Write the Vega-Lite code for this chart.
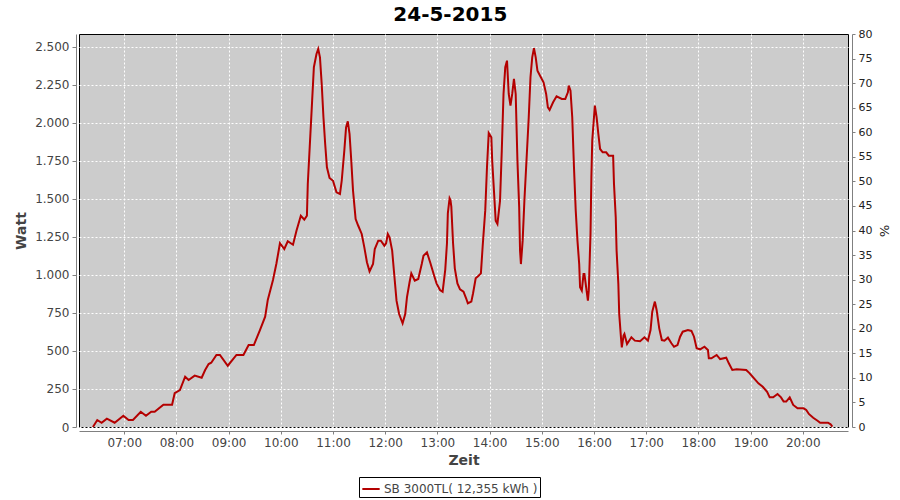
{
  "$schema": "https://vega.github.io/schema/vega-lite/v6.json",
  "width": 769,
  "height": 393,
  "autosize": {"type": "none"},
  "padding": {"left": 79, "top": 34, "right": 52, "bottom": 73},
  "background": "white",
  "title": {"text": "24-5-2015", "font": "DejaVu Sans", "fontSize": 20, "fontWeight": "bold", "color": "black", "anchor": "middle", "frame": "bounds", "offset": 3, "dx": -2},
  "config": {
    "view": {"fill": "#CCCCCC", "stroke": "black", "strokeWidth": 1},
    "font": "DejaVu Sans",
    "locale": {"number": {"decimal": ",", "thousands": ".", "grouping": [3], "currency": ["", " €"]}}
  },
  "layer": [
    {
      "data": {"values": [
        {"t": "2015-05-24 06:24", "w": 0, "s": "SB 3000TL( 12,355 kWh )"},
        {"t": "2015-05-24 06:29", "w": 46, "s": "SB 3000TL( 12,355 kWh )"},
        {"t": "2015-05-24 06:34", "w": 28, "s": "SB 3000TL( 12,355 kWh )"},
        {"t": "2015-05-24 06:40", "w": 55, "s": "SB 3000TL( 12,355 kWh )"},
        {"t": "2015-05-24 06:49", "w": 28, "s": "SB 3000TL( 12,355 kWh )"},
        {"t": "2015-05-24 06:59", "w": 74, "s": "SB 3000TL( 12,355 kWh )"},
        {"t": "2015-05-24 07:05", "w": 46, "s": "SB 3000TL( 12,355 kWh )"},
        {"t": "2015-05-24 07:10", "w": 46, "s": "SB 3000TL( 12,355 kWh )"},
        {"t": "2015-05-24 07:19", "w": 100, "s": "SB 3000TL( 12,355 kWh )"},
        {"t": "2015-05-24 07:25", "w": 74, "s": "SB 3000TL( 12,355 kWh )"},
        {"t": "2015-05-24 07:31", "w": 100, "s": "SB 3000TL( 12,355 kWh )"},
        {"t": "2015-05-24 07:35", "w": 100, "s": "SB 3000TL( 12,355 kWh )"},
        {"t": "2015-05-24 07:45", "w": 147, "s": "SB 3000TL( 12,355 kWh )"},
        {"t": "2015-05-24 07:55", "w": 147, "s": "SB 3000TL( 12,355 kWh )"},
        {"t": "2015-05-24 07:58", "w": 222, "s": "SB 3000TL( 12,355 kWh )"},
        {"t": "2015-05-24 08:04", "w": 243, "s": "SB 3000TL( 12,355 kWh )"},
        {"t": "2015-05-24 08:10", "w": 331, "s": "SB 3000TL( 12,355 kWh )"},
        {"t": "2015-05-24 08:14", "w": 309, "s": "SB 3000TL( 12,355 kWh )"},
        {"t": "2015-05-24 08:21", "w": 338, "s": "SB 3000TL( 12,355 kWh )"},
        {"t": "2015-05-24 08:29", "w": 324, "s": "SB 3000TL( 12,355 kWh )"},
        {"t": "2015-05-24 08:33", "w": 375, "s": "SB 3000TL( 12,355 kWh )"},
        {"t": "2015-05-24 08:37", "w": 414, "s": "SB 3000TL( 12,355 kWh )"},
        {"t": "2015-05-24 08:40", "w": 423, "s": "SB 3000TL( 12,355 kWh )"},
        {"t": "2015-05-24 08:46", "w": 474, "s": "SB 3000TL( 12,355 kWh )"},
        {"t": "2015-05-24 08:50", "w": 474, "s": "SB 3000TL( 12,355 kWh )"},
        {"t": "2015-05-24 08:59", "w": 403, "s": "SB 3000TL( 12,355 kWh )"},
        {"t": "2015-05-24 09:09", "w": 474, "s": "SB 3000TL( 12,355 kWh )"},
        {"t": "2015-05-24 09:17", "w": 474, "s": "SB 3000TL( 12,355 kWh )"},
        {"t": "2015-05-24 09:23", "w": 539, "s": "SB 3000TL( 12,355 kWh )"},
        {"t": "2015-05-24 09:29", "w": 539, "s": "SB 3000TL( 12,355 kWh )"},
        {"t": "2015-05-24 09:36", "w": 638, "s": "SB 3000TL( 12,355 kWh )"},
        {"t": "2015-05-24 09:42", "w": 726, "s": "SB 3000TL( 12,355 kWh )"},
        {"t": "2015-05-24 09:45", "w": 836, "s": "SB 3000TL( 12,355 kWh )"},
        {"t": "2015-05-24 09:51", "w": 967, "s": "SB 3000TL( 12,355 kWh )"},
        {"t": "2015-05-24 09:55", "w": 1077, "s": "SB 3000TL( 12,355 kWh )"},
        {"t": "2015-05-24 09:59", "w": 1209, "s": "SB 3000TL( 12,355 kWh )"},
        {"t": "2015-05-24 10:04", "w": 1171, "s": "SB 3000TL( 12,355 kWh )"},
        {"t": "2015-05-24 10:08", "w": 1222, "s": "SB 3000TL( 12,355 kWh )"},
        {"t": "2015-05-24 10:14", "w": 1199, "s": "SB 3000TL( 12,355 kWh )"},
        {"t": "2015-05-24 10:18", "w": 1291, "s": "SB 3000TL( 12,355 kWh )"},
        {"t": "2015-05-24 10:23", "w": 1390, "s": "SB 3000TL( 12,355 kWh )"},
        {"t": "2015-05-24 10:27", "w": 1364, "s": "SB 3000TL( 12,355 kWh )"},
        {"t": "2015-05-24 10:30", "w": 1390, "s": "SB 3000TL( 12,355 kWh )"},
        {"t": "2015-05-24 10:31", "w": 1599, "s": "SB 3000TL( 12,355 kWh )"},
        {"t": "2015-05-24 10:33", "w": 1818, "s": "SB 3000TL( 12,355 kWh )"},
        {"t": "2015-05-24 10:36", "w": 2147, "s": "SB 3000TL( 12,355 kWh )"},
        {"t": "2015-05-24 10:38", "w": 2367, "s": "SB 3000TL( 12,355 kWh )"},
        {"t": "2015-05-24 10:41", "w": 2454, "s": "SB 3000TL( 12,355 kWh )"},
        {"t": "2015-05-24 10:43", "w": 2487, "s": "SB 3000TL( 12,355 kWh )"},
        {"t": "2015-05-24 10:45", "w": 2432, "s": "SB 3000TL( 12,355 kWh )"},
        {"t": "2015-05-24 10:47", "w": 2257, "s": "SB 3000TL( 12,355 kWh )"},
        {"t": "2015-05-24 10:49", "w": 2038, "s": "SB 3000TL( 12,355 kWh )"},
        {"t": "2015-05-24 10:51", "w": 1862, "s": "SB 3000TL( 12,355 kWh )"},
        {"t": "2015-05-24 10:53", "w": 1709, "s": "SB 3000TL( 12,355 kWh )"},
        {"t": "2015-05-24 10:56", "w": 1638, "s": "SB 3000TL( 12,355 kWh )"},
        {"t": "2015-05-24 11:00", "w": 1620, "s": "SB 3000TL( 12,355 kWh )"},
        {"t": "2015-05-24 11:04", "w": 1544, "s": "SB 3000TL( 12,355 kWh )"},
        {"t": "2015-05-24 11:08", "w": 1533, "s": "SB 3000TL( 12,355 kWh )"},
        {"t": "2015-05-24 11:10", "w": 1620, "s": "SB 3000TL( 12,355 kWh )"},
        {"t": "2015-05-24 11:13", "w": 1818, "s": "SB 3000TL( 12,355 kWh )"},
        {"t": "2015-05-24 11:15", "w": 1971, "s": "SB 3000TL( 12,355 kWh )"},
        {"t": "2015-05-24 11:17", "w": 2011, "s": "SB 3000TL( 12,355 kWh )"},
        {"t": "2015-05-24 11:19", "w": 1928, "s": "SB 3000TL( 12,355 kWh )"},
        {"t": "2015-05-24 11:21", "w": 1752, "s": "SB 3000TL( 12,355 kWh )"},
        {"t": "2015-05-24 11:23", "w": 1555, "s": "SB 3000TL( 12,355 kWh )"},
        {"t": "2015-05-24 11:26", "w": 1368, "s": "SB 3000TL( 12,355 kWh )"},
        {"t": "2015-05-24 11:29", "w": 1324, "s": "SB 3000TL( 12,355 kWh )"},
        {"t": "2015-05-24 11:33", "w": 1270, "s": "SB 3000TL( 12,355 kWh )"},
        {"t": "2015-05-24 11:36", "w": 1182, "s": "SB 3000TL( 12,355 kWh )"},
        {"t": "2015-05-24 11:39", "w": 1084, "s": "SB 3000TL( 12,355 kWh )"},
        {"t": "2015-05-24 11:42", "w": 1024, "s": "SB 3000TL( 12,355 kWh )"},
        {"t": "2015-05-24 11:46", "w": 1072, "s": "SB 3000TL( 12,355 kWh )"},
        {"t": "2015-05-24 11:48", "w": 1171, "s": "SB 3000TL( 12,355 kWh )"},
        {"t": "2015-05-24 11:52", "w": 1226, "s": "SB 3000TL( 12,355 kWh )"},
        {"t": "2015-05-24 11:55", "w": 1226, "s": "SB 3000TL( 12,355 kWh )"},
        {"t": "2015-05-24 11:59", "w": 1193, "s": "SB 3000TL( 12,355 kWh )"},
        {"t": "2015-05-24 12:01", "w": 1209, "s": "SB 3000TL( 12,355 kWh )"},
        {"t": "2015-05-24 12:03", "w": 1270, "s": "SB 3000TL( 12,355 kWh )"},
        {"t": "2015-05-24 12:05", "w": 1248, "s": "SB 3000TL( 12,355 kWh )"},
        {"t": "2015-05-24 12:08", "w": 1160, "s": "SB 3000TL( 12,355 kWh )"},
        {"t": "2015-05-24 12:10", "w": 1028, "s": "SB 3000TL( 12,355 kWh )"},
        {"t": "2015-05-24 12:13", "w": 831, "s": "SB 3000TL( 12,355 kWh )"},
        {"t": "2015-05-24 12:16", "w": 743, "s": "SB 3000TL( 12,355 kWh )"},
        {"t": "2015-05-24 12:20", "w": 682, "s": "SB 3000TL( 12,355 kWh )"},
        {"t": "2015-05-24 12:23", "w": 743, "s": "SB 3000TL( 12,355 kWh )"},
        {"t": "2015-05-24 12:25", "w": 853, "s": "SB 3000TL( 12,355 kWh )"},
        {"t": "2015-05-24 12:28", "w": 952, "s": "SB 3000TL( 12,355 kWh )"},
        {"t": "2015-05-24 12:30", "w": 1011, "s": "SB 3000TL( 12,355 kWh )"},
        {"t": "2015-05-24 12:34", "w": 963, "s": "SB 3000TL( 12,355 kWh )"},
        {"t": "2015-05-24 12:38", "w": 974, "s": "SB 3000TL( 12,355 kWh )"},
        {"t": "2015-05-24 12:42", "w": 1072, "s": "SB 3000TL( 12,355 kWh )"},
        {"t": "2015-05-24 12:44", "w": 1127, "s": "SB 3000TL( 12,355 kWh )"},
        {"t": "2015-05-24 12:48", "w": 1149, "s": "SB 3000TL( 12,355 kWh )"},
        {"t": "2015-05-24 12:52", "w": 1077, "s": "SB 3000TL( 12,355 kWh )"},
        {"t": "2015-05-24 12:56", "w": 1000, "s": "SB 3000TL( 12,355 kWh )"},
        {"t": "2015-05-24 12:59", "w": 945, "s": "SB 3000TL( 12,355 kWh )"},
        {"t": "2015-05-24 13:03", "w": 901, "s": "SB 3000TL( 12,355 kWh )"},
        {"t": "2015-05-24 13:06", "w": 890, "s": "SB 3000TL( 12,355 kWh )"},
        {"t": "2015-05-24 13:09", "w": 1033, "s": "SB 3000TL( 12,355 kWh )"},
        {"t": "2015-05-24 13:11", "w": 1209, "s": "SB 3000TL( 12,355 kWh )"},
        {"t": "2015-05-24 13:12", "w": 1406, "s": "SB 3000TL( 12,355 kWh )"},
        {"t": "2015-05-24 13:14", "w": 1505, "s": "SB 3000TL( 12,355 kWh )"},
        {"t": "2015-05-24 13:15", "w": 1493, "s": "SB 3000TL( 12,355 kWh )"},
        {"t": "2015-05-24 13:16", "w": 1450, "s": "SB 3000TL( 12,355 kWh )"},
        {"t": "2015-05-24 13:18", "w": 1209, "s": "SB 3000TL( 12,355 kWh )"},
        {"t": "2015-05-24 13:20", "w": 1044, "s": "SB 3000TL( 12,355 kWh )"},
        {"t": "2015-05-24 13:23", "w": 945, "s": "SB 3000TL( 12,355 kWh )"},
        {"t": "2015-05-24 13:26", "w": 906, "s": "SB 3000TL( 12,355 kWh )"},
        {"t": "2015-05-24 13:30", "w": 890, "s": "SB 3000TL( 12,355 kWh )"},
        {"t": "2015-05-24 13:33", "w": 847, "s": "SB 3000TL( 12,355 kWh )"},
        {"t": "2015-05-24 13:35", "w": 814, "s": "SB 3000TL( 12,355 kWh )"},
        {"t": "2015-05-24 13:39", "w": 825, "s": "SB 3000TL( 12,355 kWh )"},
        {"t": "2015-05-24 13:41", "w": 880, "s": "SB 3000TL( 12,355 kWh )"},
        {"t": "2015-05-24 13:44", "w": 978, "s": "SB 3000TL( 12,355 kWh )"},
        {"t": "2015-05-24 13:47", "w": 993, "s": "SB 3000TL( 12,355 kWh )"},
        {"t": "2015-05-24 13:50", "w": 1011, "s": "SB 3000TL( 12,355 kWh )"},
        {"t": "2015-05-24 13:52", "w": 1186, "s": "SB 3000TL( 12,355 kWh )"},
        {"t": "2015-05-24 13:55", "w": 1425, "s": "SB 3000TL( 12,355 kWh )"},
        {"t": "2015-05-24 13:57", "w": 1709, "s": "SB 3000TL( 12,355 kWh )"},
        {"t": "2015-05-24 13:59", "w": 1934, "s": "SB 3000TL( 12,355 kWh )"},
        {"t": "2015-05-24 14:02", "w": 1906, "s": "SB 3000TL( 12,355 kWh )"},
        {"t": "2015-05-24 14:03", "w": 1752, "s": "SB 3000TL( 12,355 kWh )"},
        {"t": "2015-05-24 14:05", "w": 1555, "s": "SB 3000TL( 12,355 kWh )"},
        {"t": "2015-05-24 14:07", "w": 1357, "s": "SB 3000TL( 12,355 kWh )"},
        {"t": "2015-05-24 14:09", "w": 1336, "s": "SB 3000TL( 12,355 kWh )"},
        {"t": "2015-05-24 14:12", "w": 1489, "s": "SB 3000TL( 12,355 kWh )"},
        {"t": "2015-05-24 14:14", "w": 1818, "s": "SB 3000TL( 12,355 kWh )"},
        {"t": "2015-05-24 14:16", "w": 2191, "s": "SB 3000TL( 12,355 kWh )"},
        {"t": "2015-05-24 14:18", "w": 2367, "s": "SB 3000TL( 12,355 kWh )"},
        {"t": "2015-05-24 14:20", "w": 2410, "s": "SB 3000TL( 12,355 kWh )"},
        {"t": "2015-05-24 14:22", "w": 2191, "s": "SB 3000TL( 12,355 kWh )"},
        {"t": "2015-05-24 14:24", "w": 2114, "s": "SB 3000TL( 12,355 kWh )"},
        {"t": "2015-05-24 14:26", "w": 2191, "s": "SB 3000TL( 12,355 kWh )"},
        {"t": "2015-05-24 14:28", "w": 2290, "s": "SB 3000TL( 12,355 kWh )"},
        {"t": "2015-05-24 14:30", "w": 2191, "s": "SB 3000TL( 12,355 kWh )"},
        {"t": "2015-05-24 14:32", "w": 1752, "s": "SB 3000TL( 12,355 kWh )"},
        {"t": "2015-05-24 14:34", "w": 1445, "s": "SB 3000TL( 12,355 kWh )"},
        {"t": "2015-05-24 14:35", "w": 1160, "s": "SB 3000TL( 12,355 kWh )"},
        {"t": "2015-05-24 14:36", "w": 1072, "s": "SB 3000TL( 12,355 kWh )"},
        {"t": "2015-05-24 14:38", "w": 1226, "s": "SB 3000TL( 12,355 kWh )"},
        {"t": "2015-05-24 14:40", "w": 1489, "s": "SB 3000TL( 12,355 kWh )"},
        {"t": "2015-05-24 14:42", "w": 1709, "s": "SB 3000TL( 12,355 kWh )"},
        {"t": "2015-05-24 14:45", "w": 2038, "s": "SB 3000TL( 12,355 kWh )"},
        {"t": "2015-05-24 14:47", "w": 2301, "s": "SB 3000TL( 12,355 kWh )"},
        {"t": "2015-05-24 14:49", "w": 2432, "s": "SB 3000TL( 12,355 kWh )"},
        {"t": "2015-05-24 14:51", "w": 2493, "s": "SB 3000TL( 12,355 kWh )"},
        {"t": "2015-05-24 14:53", "w": 2432, "s": "SB 3000TL( 12,355 kWh )"},
        {"t": "2015-05-24 14:55", "w": 2344, "s": "SB 3000TL( 12,355 kWh )"},
        {"t": "2015-05-24 14:58", "w": 2311, "s": "SB 3000TL( 12,355 kWh )"},
        {"t": "2015-05-24 15:02", "w": 2268, "s": "SB 3000TL( 12,355 kWh )"},
        {"t": "2015-05-24 15:05", "w": 2191, "s": "SB 3000TL( 12,355 kWh )"},
        {"t": "2015-05-24 15:07", "w": 2103, "s": "SB 3000TL( 12,355 kWh )"},
        {"t": "2015-05-24 15:09", "w": 2086, "s": "SB 3000TL( 12,355 kWh )"},
        {"t": "2015-05-24 15:13", "w": 2136, "s": "SB 3000TL( 12,355 kWh )"},
        {"t": "2015-05-24 15:17", "w": 2176, "s": "SB 3000TL( 12,355 kWh )"},
        {"t": "2015-05-24 15:23", "w": 2158, "s": "SB 3000TL( 12,355 kWh )"},
        {"t": "2015-05-24 15:27", "w": 2158, "s": "SB 3000TL( 12,355 kWh )"},
        {"t": "2015-05-24 15:30", "w": 2202, "s": "SB 3000TL( 12,355 kWh )"},
        {"t": "2015-05-24 15:31", "w": 2246, "s": "SB 3000TL( 12,355 kWh )"},
        {"t": "2015-05-24 15:33", "w": 2213, "s": "SB 3000TL( 12,355 kWh )"},
        {"t": "2015-05-24 15:35", "w": 2038, "s": "SB 3000TL( 12,355 kWh )"},
        {"t": "2015-05-24 15:37", "w": 1709, "s": "SB 3000TL( 12,355 kWh )"},
        {"t": "2015-05-24 15:39", "w": 1425, "s": "SB 3000TL( 12,355 kWh )"},
        {"t": "2015-05-24 15:41", "w": 1226, "s": "SB 3000TL( 12,355 kWh )"},
        {"t": "2015-05-24 15:43", "w": 1072, "s": "SB 3000TL( 12,355 kWh )"},
        {"t": "2015-05-24 15:44", "w": 919, "s": "SB 3000TL( 12,355 kWh )"},
        {"t": "2015-05-24 15:46", "w": 897, "s": "SB 3000TL( 12,355 kWh )"},
        {"t": "2015-05-24 15:48", "w": 1007, "s": "SB 3000TL( 12,355 kWh )"},
        {"t": "2015-05-24 15:49", "w": 1007, "s": "SB 3000TL( 12,355 kWh )"},
        {"t": "2015-05-24 15:51", "w": 919, "s": "SB 3000TL( 12,355 kWh )"},
        {"t": "2015-05-24 15:53", "w": 831, "s": "SB 3000TL( 12,355 kWh )"},
        {"t": "2015-05-24 15:54", "w": 897, "s": "SB 3000TL( 12,355 kWh )"},
        {"t": "2015-05-24 15:56", "w": 1270, "s": "SB 3000TL( 12,355 kWh )"},
        {"t": "2015-05-24 15:57", "w": 1643, "s": "SB 3000TL( 12,355 kWh )"},
        {"t": "2015-05-24 15:58", "w": 1884, "s": "SB 3000TL( 12,355 kWh )"},
        {"t": "2015-05-24 16:00", "w": 2038, "s": "SB 3000TL( 12,355 kWh )"},
        {"t": "2015-05-24 16:01", "w": 2114, "s": "SB 3000TL( 12,355 kWh )"},
        {"t": "2015-05-24 16:03", "w": 2038, "s": "SB 3000TL( 12,355 kWh )"},
        {"t": "2015-05-24 16:05", "w": 1928, "s": "SB 3000TL( 12,355 kWh )"},
        {"t": "2015-05-24 16:07", "w": 1829, "s": "SB 3000TL( 12,355 kWh )"},
        {"t": "2015-05-24 16:10", "w": 1807, "s": "SB 3000TL( 12,355 kWh )"},
        {"t": "2015-05-24 16:14", "w": 1807, "s": "SB 3000TL( 12,355 kWh )"},
        {"t": "2015-05-24 16:17", "w": 1785, "s": "SB 3000TL( 12,355 kWh )"},
        {"t": "2015-05-24 16:22", "w": 1785, "s": "SB 3000TL( 12,355 kWh )"},
        {"t": "2015-05-24 16:23", "w": 1599, "s": "SB 3000TL( 12,355 kWh )"},
        {"t": "2015-05-24 16:25", "w": 1380, "s": "SB 3000TL( 12,355 kWh )"},
        {"t": "2015-05-24 16:26", "w": 1160, "s": "SB 3000TL( 12,355 kWh )"},
        {"t": "2015-05-24 16:28", "w": 941, "s": "SB 3000TL( 12,355 kWh )"},
        {"t": "2015-05-24 16:29", "w": 743, "s": "SB 3000TL( 12,355 kWh )"},
        {"t": "2015-05-24 16:31", "w": 590, "s": "SB 3000TL( 12,355 kWh )"},
        {"t": "2015-05-24 16:32", "w": 524, "s": "SB 3000TL( 12,355 kWh )"},
        {"t": "2015-05-24 16:34", "w": 601, "s": "SB 3000TL( 12,355 kWh )"},
        {"t": "2015-05-24 16:35", "w": 612, "s": "SB 3000TL( 12,355 kWh )"},
        {"t": "2015-05-24 16:38", "w": 546, "s": "SB 3000TL( 12,355 kWh )"},
        {"t": "2015-05-24 16:43", "w": 590, "s": "SB 3000TL( 12,355 kWh )"},
        {"t": "2015-05-24 16:47", "w": 568, "s": "SB 3000TL( 12,355 kWh )"},
        {"t": "2015-05-24 16:53", "w": 564, "s": "SB 3000TL( 12,355 kWh )"},
        {"t": "2015-05-24 16:58", "w": 590, "s": "SB 3000TL( 12,355 kWh )"},
        {"t": "2015-05-24 17:02", "w": 568, "s": "SB 3000TL( 12,355 kWh )"},
        {"t": "2015-05-24 17:05", "w": 638, "s": "SB 3000TL( 12,355 kWh )"},
        {"t": "2015-05-24 17:07", "w": 759, "s": "SB 3000TL( 12,355 kWh )"},
        {"t": "2015-05-24 17:10", "w": 825, "s": "SB 3000TL( 12,355 kWh )"},
        {"t": "2015-05-24 17:12", "w": 770, "s": "SB 3000TL( 12,355 kWh )"},
        {"t": "2015-05-24 17:15", "w": 649, "s": "SB 3000TL( 12,355 kWh )"},
        {"t": "2015-05-24 17:18", "w": 572, "s": "SB 3000TL( 12,355 kWh )"},
        {"t": "2015-05-24 17:21", "w": 568, "s": "SB 3000TL( 12,355 kWh )"},
        {"t": "2015-05-24 17:25", "w": 588, "s": "SB 3000TL( 12,355 kWh )"},
        {"t": "2015-05-24 17:29", "w": 551, "s": "SB 3000TL( 12,355 kWh )"},
        {"t": "2015-05-24 17:32", "w": 528, "s": "SB 3000TL( 12,355 kWh )"},
        {"t": "2015-05-24 17:36", "w": 539, "s": "SB 3000TL( 12,355 kWh )"},
        {"t": "2015-05-24 17:39", "w": 594, "s": "SB 3000TL( 12,355 kWh )"},
        {"t": "2015-05-24 17:42", "w": 627, "s": "SB 3000TL( 12,355 kWh )"},
        {"t": "2015-05-24 17:48", "w": 638, "s": "SB 3000TL( 12,355 kWh )"},
        {"t": "2015-05-24 17:52", "w": 632, "s": "SB 3000TL( 12,355 kWh )"},
        {"t": "2015-05-24 17:55", "w": 594, "s": "SB 3000TL( 12,355 kWh )"},
        {"t": "2015-05-24 17:58", "w": 518, "s": "SB 3000TL( 12,355 kWh )"},
        {"t": "2015-05-24 18:02", "w": 511, "s": "SB 3000TL( 12,355 kWh )"},
        {"t": "2015-05-24 18:07", "w": 528, "s": "SB 3000TL( 12,355 kWh )"},
        {"t": "2015-05-24 18:11", "w": 507, "s": "SB 3000TL( 12,355 kWh )"},
        {"t": "2015-05-24 18:12", "w": 452, "s": "SB 3000TL( 12,355 kWh )"},
        {"t": "2015-05-24 18:15", "w": 452, "s": "SB 3000TL( 12,355 kWh )"},
        {"t": "2015-05-24 18:21", "w": 474, "s": "SB 3000TL( 12,355 kWh )"},
        {"t": "2015-05-24 18:25", "w": 447, "s": "SB 3000TL( 12,355 kWh )"},
        {"t": "2015-05-24 18:32", "w": 456, "s": "SB 3000TL( 12,355 kWh )"},
        {"t": "2015-05-24 18:35", "w": 419, "s": "SB 3000TL( 12,355 kWh )"},
        {"t": "2015-05-24 18:39", "w": 375, "s": "SB 3000TL( 12,355 kWh )"},
        {"t": "2015-05-24 18:44", "w": 380, "s": "SB 3000TL( 12,355 kWh )"},
        {"t": "2015-05-24 18:55", "w": 375, "s": "SB 3000TL( 12,355 kWh )"},
        {"t": "2015-05-24 18:59", "w": 353, "s": "SB 3000TL( 12,355 kWh )"},
        {"t": "2015-05-24 19:04", "w": 320, "s": "SB 3000TL( 12,355 kWh )"},
        {"t": "2015-05-24 19:09", "w": 287, "s": "SB 3000TL( 12,355 kWh )"},
        {"t": "2015-05-24 19:14", "w": 265, "s": "SB 3000TL( 12,355 kWh )"},
        {"t": "2015-05-24 19:19", "w": 232, "s": "SB 3000TL( 12,355 kWh )"},
        {"t": "2015-05-24 19:22", "w": 195, "s": "SB 3000TL( 12,355 kWh )"},
        {"t": "2015-05-24 19:26", "w": 195, "s": "SB 3000TL( 12,355 kWh )"},
        {"t": "2015-05-24 19:31", "w": 217, "s": "SB 3000TL( 12,355 kWh )"},
        {"t": "2015-05-24 19:35", "w": 195, "s": "SB 3000TL( 12,355 kWh )"},
        {"t": "2015-05-24 19:38", "w": 167, "s": "SB 3000TL( 12,355 kWh )"},
        {"t": "2015-05-24 19:41", "w": 167, "s": "SB 3000TL( 12,355 kWh )"},
        {"t": "2015-05-24 19:45", "w": 195, "s": "SB 3000TL( 12,355 kWh )"},
        {"t": "2015-05-24 19:49", "w": 145, "s": "SB 3000TL( 12,355 kWh )"},
        {"t": "2015-05-24 19:54", "w": 123, "s": "SB 3000TL( 12,355 kWh )"},
        {"t": "2015-05-24 20:01", "w": 123, "s": "SB 3000TL( 12,355 kWh )"},
        {"t": "2015-05-24 20:04", "w": 112, "s": "SB 3000TL( 12,355 kWh )"},
        {"t": "2015-05-24 20:07", "w": 86, "s": "SB 3000TL( 12,355 kWh )"},
        {"t": "2015-05-24 20:12", "w": 61, "s": "SB 3000TL( 12,355 kWh )"},
        {"t": "2015-05-24 20:17", "w": 41, "s": "SB 3000TL( 12,355 kWh )"},
        {"t": "2015-05-24 20:20", "w": 28, "s": "SB 3000TL( 12,355 kWh )"},
        {"t": "2015-05-24 20:29", "w": 28, "s": "SB 3000TL( 12,355 kWh )"},
        {"t": "2015-05-24 20:32", "w": 18, "s": "SB 3000TL( 12,355 kWh )"},
        {"t": "2015-05-24 20:34", "w": 2, "s": "SB 3000TL( 12,355 kWh )"}
      ]},
      "mark": {"type": "line", "strokeWidth": 2},
      "encoding": {
        "x": {
          "field": "t", "type": "temporal",
          "scale": {"domain": [
            {"year": 2015, "month": 5, "date": 24, "hours": 6, "minutes": 8},
            {"year": 2015, "month": 5, "date": 24, "hours": 20, "minutes": 52}
          ]},
          "axis": {
            "title": "Zeit", "format": "%H:%M",
            "values": [
              {"year": 2015, "month": 5, "date": 24, "hours": 7},
              {"year": 2015, "month": 5, "date": 24, "hours": 8},
              {"year": 2015, "month": 5, "date": 24, "hours": 9},
              {"year": 2015, "month": 5, "date": 24, "hours": 10},
              {"year": 2015, "month": 5, "date": 24, "hours": 11},
              {"year": 2015, "month": 5, "date": 24, "hours": 12},
              {"year": 2015, "month": 5, "date": 24, "hours": 13},
              {"year": 2015, "month": 5, "date": 24, "hours": 14},
              {"year": 2015, "month": 5, "date": 24, "hours": 15},
              {"year": 2015, "month": 5, "date": 24, "hours": 16},
              {"year": 2015, "month": 5, "date": 24, "hours": 17},
              {"year": 2015, "month": 5, "date": 24, "hours": 18},
              {"year": 2015, "month": 5, "date": 24, "hours": 19},
              {"year": 2015, "month": 5, "date": 24, "hours": 20}
            ],
            "offset": 4, "domainColor": "#808080", "tickColor": "#808080", "tickSize": 3,
            "labelColor": "#444444", "labelFont": "DejaVu Sans", "labelFontSize": 12, "labelPadding": 3,
            "titleFont": "DejaVu Sans", "titleFontSize": 14, "titleFontWeight": "bold", "titleColor": "#444444", "titlePadding": 5,
            "grid": true, "gridColor": "white", "gridDash": [2, 2], "gridWidth": 1, "gridOpacity": 1
          }
        },
        "y": {
          "field": "w", "type": "quantitative",
          "scale": {"domain": [0, 2585.5], "nice": false},
          "axis": {
            "title": "Watt", "values": [0, 250, 500, 750, 1000, 1250, 1500, 1750, 2000, 2250, 2500],
            "format": ",d",
            "offset": 3, "domainColor": "#808080", "tickColor": "#808080", "tickSize": 4,
            "labelColor": "#444444", "labelFont": "DejaVu Sans", "labelFontSize": 12, "labelPadding": 3,
            "titleFont": "DejaVu Sans", "titleFontSize": 14, "titleFontWeight": "bold", "titleColor": "#444444", "titlePadding": 6,
            "grid": true, "gridColor": "white", "gridDash": [2, 2], "gridWidth": 1, "gridOpacity": 1
          }
        },
        "color": {
          "field": "s", "type": "nominal",
          "scale": {"range": ["#B40000"]},
          "legend": {
            "title": null, "orient": "none", "legendX": 280, "legendY": 443,
            "strokeColor": "black", "fillColor": "white", "padding": 2,
            "symbolType": "stroke", "symbolSize": 300, "symbolStrokeWidth": 2,
            "labelFont": "DejaVu Sans", "labelFontSize": 12, "labelColor": "#444444", "labelOffset": 3
          }
        }
      }
    },
    {
      "data": {"values": [{"p": 0}, {"p": 80}]},
      "mark": {"type": "point", "opacity": 0},
      "encoding": {
        "y": {
          "field": "p", "type": "quantitative",
          "scale": {"domain": [0, 80], "nice": false},
          "axis": {
            "orient": "right", "title": "%", "values": [0, 5, 10, 15, 20, 25, 30, 35, 40, 45, 50, 55, 60, 65, 70, 75, 80],
            "offset": 4, "domainColor": "#808080", "tickColor": "#808080", "tickSize": 3,
            "labelColor": "#222222", "labelFont": "DejaVu Sans", "labelFontSize": 11, "labelPadding": 3,
            "titleFont": "DejaVu Sans", "titleFontSize": 13, "titleFontWeight": "normal", "titleColor": "#222222", "titlePadding": 5,
            "grid": false
          }
        }
      }
    }
  ],
  "resolve": {"scale": {"y": "independent"}}
}
